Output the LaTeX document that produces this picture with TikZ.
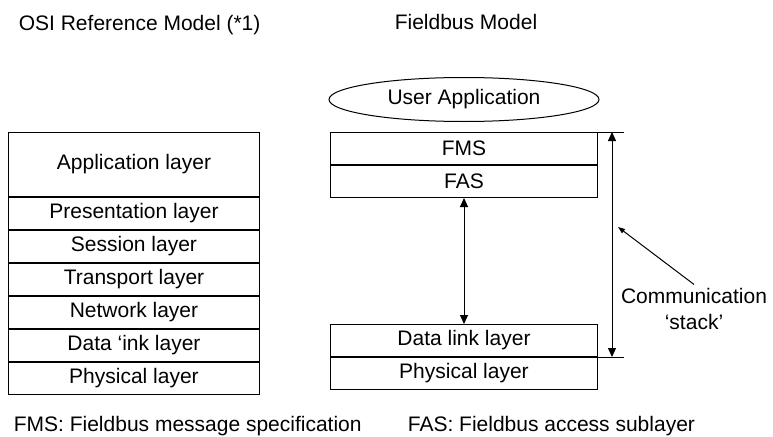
\documentclass[tikz,border=0pt]{standalone}
\usepackage{fontspec}
\setmainfont{Liberation Sans}
\usetikzlibrary{arrows.meta, positioning, shapes}

\begin{document}
\begin{tikzpicture}[x=1pt,y=-1pt,node distance=0pt,line width=1pt,
		font=\fontsize{21}{26}\selectfont,
		layer/.style={draw, minimum width=251pt, minimum height=32pt, inner sep=0pt},
		fblayer/.style={layer, minimum width=267pt},
		>={Triangle[length=9pt,width=8pt]}]
		\useasboundingbox (0,0) rectangle (773,436);
		% titles
		\node[anchor=base west] (osi) at (15,31) {OSI Reference Model (*1)};
		\node[anchor=base] (fb) at (466,30) {Fieldbus Model};
		% OSI stack
		\node[layer, minimum height=64pt, anchor=north west] (app) at (8,132) {Application layer};
		\node[layer, below=of app] (pres) {Presentation layer};
		\node[layer, below=of pres] (sess) {Session layer};
		\node[layer, below=of sess] (trans) {Transport layer};
		\node[layer, below=of trans] (net) {Network layer};
		\node[layer, below=of net] (dl) {Data ‘ink layer};
		\node[layer, below=of dl] (phys) {Physical layer};
		% fieldbus stack
		\node[fblayer, anchor=north west] (fms) at (330,132) {FMS};
		\node[fblayer, below=of fms] (fas) {FAS};
		\node[fblayer, anchor=north west] (fbdl) at (330,324) {Data link layer};
		\node[fblayer, below=of fbdl] (fbphys) {Physical layer};
		\node[draw, ellipse, minimum width=270pt, minimum height=44pt, inner sep=0pt,
			above=10pt of fms] (user) {User Application};
		\draw[<->] (fas) -- (fbdl);
		% communication stack
		\coordinate (toptick) at ([xshift=26pt]fms.north east);
		\coordinate (bottick) at ([xshift=26pt]fbdl.south east);
		\coordinate (stacktop) at ([xshift=14pt]fms.north east);
		\coordinate (stackbot) at ([xshift=14pt]fbdl.south east);
		\draw (fms.north east) -- (toptick);
		\draw (fbdl.south east) -- (bottick);
		\draw[<->] (stacktop) -- (stackbot);
		\node[align=center] (comm) at (694,309) {Communication\\‘stack’};
		\coordinate (commtip) at (618,227);
		\draw[-{Triangle[length=7pt,width=5pt]}] (comm.north) -- (commtip);
		% notes
		\node[anchor=base west] (fmsnote) at (10,431) {FMS: Fieldbus message specification};
		\node[anchor=base west] (fasnote) at (404,431) {FAS: Fieldbus access sublayer};
\end{tikzpicture}
\end{document}
